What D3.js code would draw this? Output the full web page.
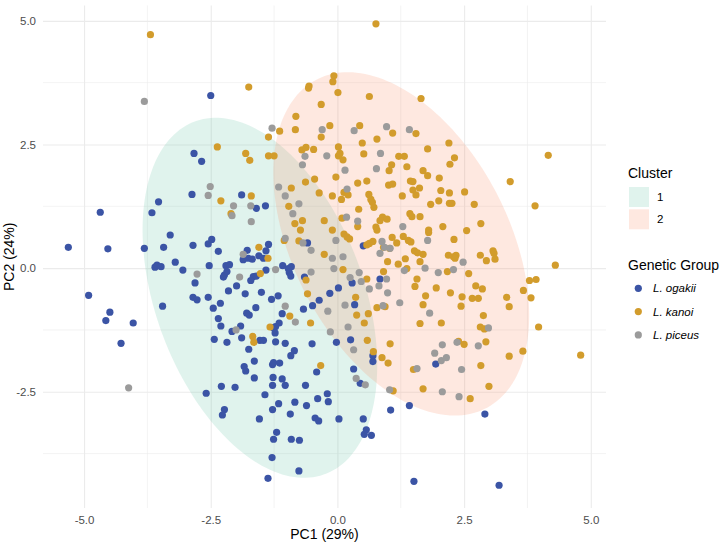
<!DOCTYPE html>
<html lang="en">
<head>
  <meta charset="UTF-8">
  <title>PCA clusters</title>
  <style>
    body { margin: 0; background: #fff; }
    text { font-family: "Liberation Sans", Arial, sans-serif; }
  </style>
  <script src="https://cdn.jsdelivr.net/npm/d3@7"></script>
</head>
<body>
<svg width="720" height="543"></svg>
<script>
// PC1 / PC2 scores per genetic group
var ogakii = [
  [-2.50,3.49],[-2.83,2.32],[-2.68,2.16],[-2.87,1.49],[-3.53,1.34],[-4.68,1.13],[-3.66,1.12],[-3.30,0.67],
  [-5.31,0.42],[-4.53,0.39],[-3.81,0.40],[-3.43,0.42],[-2.85,0.46],[-2.55,0.49],[-2.48,0.58],[-2.35,0.34],
  [-3.20,0.12],[-3.60,0.02],[-3.56,0.06],[-3.48,0.03],[-3.05,-0.04],[-2.53,0.05],[-2.20,0.05],[-2.13,0.07],
  [-2.23,-0.14],[-2.25,-0.18],[-2.18,-0.07],[-2.81,-0.30],[-2.15,-0.46],[-4.91,-0.55],[-2.85,-0.59],[-2.77,-0.64],
  [-2.55,-0.59],[-3.45,-0.77],[-2.31,-0.71],[-2.45,-0.81],[-4.49,-0.89],[-4.57,-1.06],[-4.03,-1.11],[-2.35,-1.02],
  [-2.30,-1.17],[-4.27,-1.52],[-2.43,-1.44],[-2.18,-1.50],[-2.59,-2.53],[-2.29,-2.39],[-2.23,-2.86],[-2.27,-2.97],
  [-1.89,1.48],[-1.60,1.21],[-1.42,1.26],[-0.59,0.51],[0.51,0.45],[0.29,-0.30],[0.84,-0.22],[0.34,-0.74],
  [0.26,-1.45],[-0.02,-1.50],[-1.78,0.36],[-1.86,0.17],[-1.76,0.20],[-1.68,0.18],[-1.55,0.25],[-1.41,0.35],
  [-1.36,0.48],[-1.46,0.20],[-1.66,-0.17],[-1.71,-0.25],[-1.60,-0.16],[-1.41,-0.04],[-1.08,0.05],[-0.97,-0.01],
  [-0.91,0.03],[-0.95,-0.09],[-0.92,-0.16],[-0.65,-0.18],[-1.99,-0.36],[-1.82,-0.52],[-1.50,-0.49],[-1.17,-0.56],
  [-1.30,-0.63],[-0.15,-0.51],[0.02,-0.40],[-0.36,-0.65],[-0.49,-0.76],[-0.67,-0.83],[-1.61,-0.80],[-1.79,-0.91],
  [-1.74,-0.95],[-1.09,-0.92],[-1.91,-1.17],[-1.15,-1.11],[-1.22,-1.18],[-1.27,-1.20],[-1.23,-1.31],[-2.08,-1.28],
  [-1.89,-1.41],[-1.53,-1.46],[-1.46,-1.46],[-1.22,-1.49],[-1.03,-1.52],[-0.50,-1.53],[-1.75,-1.64],[-0.85,-1.67],
  [-0.92,-1.77],[-1.64,-1.88],[-1.84,-1.99],[-1.81,-2.08],[-1.28,-1.95],[-1.26,-1.91],[-1.14,-1.92],[-0.41,-2.10],
  [0.32,-2.04],[0.45,-2.33],[0.70,-1.77],[0.70,-1.89],[1.42,-2.78],[1.05,-2.87],[-1.64,-2.22],[-1.27,-2.21],
  [-1.09,-2.24],[-1.03,-2.37],[-1.28,-2.37],[-2.02,-2.41],[-0.63,-2.37],[-1.43,-2.56],[-0.20,-2.54],[-0.39,-2.64],
  [-0.18,-2.70],[-0.84,-2.71],[-1.16,-2.74],[-0.61,-2.78],[-1.28,-2.86],[-0.93,-2.95],[-1.54,-3.05],[-0.44,-3.03],
  [-0.37,-3.09],[0.03,-3.05],[0.51,-3.05],[0.57,-3.27],[0.53,-3.36],[0.67,-3.38],[-1.20,-3.32],[-1.26,-3.46],
  [-0.91,-3.46],[-0.75,-3.48],[-1.29,-3.83],[-0.76,-4.10],[-1.37,-4.25],[1.51,-4.31],[1.94,-1.94],[2.91,-2.95],
  [3.19,-4.39]
];

var kanoi = [
  [-3.69,4.72],[-2.37,2.45],[0.76,4.94],[-0.07,3.89],[-0.09,3.77],[-0.56,3.68],[-0.57,3.64],[-1.75,3.66],
  [0.01,3.55],[0.63,3.47],[1.65,3.43],[-0.32,3.31],[-0.82,3.07],[-1.14,2.77],[-0.83,2.80],[-0.15,2.88],
  [0.44,2.88],[1.09,2.73],[1.55,2.72],[-1.36,2.65],[-0.32,2.65],[0.78,2.61],[0.49,2.53],[1.78,2.41],
  [-1.81,2.32],[-1.73,2.18],[-1.36,2.27],[-1.25,2.27],[-0.70,2.39],[-0.62,2.44],[-0.47,2.40],[0.02,2.45],
  [0.02,2.27],[0.05,2.32],[0.11,2.19],[0.52,2.31],[1.21,2.26],[1.32,2.26],[1.07,2.09],[1.37,2.05],
  [1.02,1.97],[1.69,1.97],[1.78,1.87],[2.20,2.53],[2.31,2.23],[2.22,2.10],[4.16,2.28],[2.01,1.82],
  [3.41,1.75],[2.04,1.57],[2.21,1.52],[2.51,1.54],[2.00,1.36],[1.84,1.29],[2.21,1.31],[2.26,1.31],
  [2.70,1.29],[3.90,1.26],[1.63,1.04],[2.83,0.90],[2.08,0.84],[1.80,0.77],[1.80,0.72],[2.55,0.76],
  [2.30,0.58],[3.07,0.35],[3.09,0.30],[1.69,0.28],[2.19,0.26],[2.29,0.23],[2.34,0.26],[2.32,0.20],
  [2.82,0.26],[2.94,0.15],[3.11,0.18],[1.63,0.13],[2.17,-0.07],[2.59,-0.11],[4.30,0.06],[3.79,-0.25],
  [3.92,-0.23],[2.73,-0.36],[2.86,-0.42],[1.95,-0.40],[2.23,-0.50],[3.67,-0.45],[1.74,-0.56],[2.46,-0.58],
  [2.66,-0.61],[2.78,-0.61],[3.34,-0.59],[3.82,-0.60],[1.69,-0.74],[2.44,-0.77],[3.39,-0.78],[2.88,-0.96],
  [1.63,-1.12],[2.05,-1.11],[2.82,-1.19],[2.90,-1.23],[3.97,-1.19],[2.39,-1.48],[2.50,-1.54],[2.93,-1.49],
  [3.39,-1.78],[3.66,-1.68],[4.80,-1.76],[2.83,-1.97],[1.69,-2.44],[2.99,-2.39],[2.62,-2.64],[0.71,-1.69],
  [0.88,-1.81],[1.00,-1.92],[-0.33,-1.97],[1.50,-2.05],[1.10,-2.48],[0.59,-1.46],[1.04,-1.53],[-1.65,-1.50],
  [-2.30,1.36],[-2.10,1.10],[-0.63,1.74],[-0.45,1.80],[-0.03,1.84],[0.40,1.72],[0.58,1.76],[1.01,1.68],
  [1.09,1.70],[1.44,1.76],[1.49,1.75],[1.62,1.62],[1.49,1.58],[1.55,1.48],[-0.91,1.62],[-0.36,1.52],
  [-0.10,1.46],[0.13,1.53],[0.21,1.48],[0.08,1.39],[0.62,1.49],[0.66,1.39],[0.69,1.33],[0.72,1.23],
  [1.28,1.46],[-1.70,1.46],[-0.96,1.25],[-0.69,0.96],[-0.84,0.90],[-0.26,0.96],[0.09,1.01],[0.42,1.19],
  [0.40,0.84],[0.89,1.03],[0.84,0.96],[0.98,0.99],[0.76,0.83],[0.78,0.77],[1.43,1.10],[1.47,1.04],
  [-0.73,0.77],[-0.10,0.77],[0.13,0.69],[0.19,0.63],[0.24,0.59],[-1.05,0.56],[-0.76,0.55],[-0.26,0.28],
  [0.58,0.47],[0.63,0.50],[0.70,0.54],[0.91,0.42],[1.03,0.40],[1.17,0.51],[1.08,0.62],[1.30,0.64],
  [1.40,0.56],[1.45,0.53],[1.52,0.35],[1.58,0.31],[0.99,0.13],[1.34,0.19],[1.20,0.08],[1.37,-0.01],
  [0.91,-0.07],[0.11,-0.03],[0.58,-0.22],[1.57,-0.22],[1.53,-0.37],[0.78,-0.80],[0.94,-0.78],[0.36,-0.59],
  [0.38,-0.95],[0.61,-0.92],[0.53,-1.11],[-1.55,0.42],[-1.37,0.20],[-1.52,-0.11],[-0.62,-0.24],[-0.59,-0.52],
  [-0.94,-0.97],[-0.53,-1.11],[-1.33,-1.19],[-1.67,-1.38]
];

var piceus = [
  [-3.81,3.37],[-1.29,2.83],[-0.30,2.80],[0.33,2.78],[0.97,2.86],[1.42,2.80],[-0.64,2.26],[-0.21,2.27],
  [0.85,2.32],[-0.69,2.09],[0.15,1.98],[0.77,2.01],[-2.51,1.65],[-2.55,1.47],[-2.77,-0.12],[-1.16,1.64],
  [-1.03,1.46],[0.19,1.60],[-2.05,1.26],[-1.71,1.26],[-0.76,1.30],[-0.88,1.10],[-2.08,1.06],[-1.70,0.94],
  [0.18,1.03],[0.40,0.95],[1.29,0.84],[-1.03,0.60],[-0.68,0.51],[-0.52,0.36],[-0.03,0.56],[0.88,0.54],
  [0.93,0.42],[1.04,0.40],[0.84,0.30],[1.32,-0.05],[-0.10,0.20],[0.11,0.23],[-0.07,-0.01],[0.43,-0.09],
  [0.25,-0.19],[0.47,-0.27],[0.97,-0.22],[0.82,-0.36],[0.63,-0.42],[0.99,-0.50],[1.23,-0.70],[0.90,-0.76],
  [0.15,-0.75],[-0.19,-0.87],[0.21,-1.19],[-0.14,-1.29],[-1.86,0.28],[-1.93,-0.18],[-1.22,-0.03],[-0.52,-0.08],
  [-1.03,-0.77],[-0.83,-1.09],[-2.00,-1.25],[1.78,0.56],[2.48,0.12],[1.73,0.00],[2.29,-0.03],[1.99,-0.09],
  [1.82,-0.91],[2.98,-1.21],[2.07,-1.55],[2.36,-1.50],[2.78,-1.57],[1.92,-1.72],[2.05,-1.87],[2.15,-1.81],
  [2.45,-2.05],[2.07,-2.50],[2.40,-2.60],[0.32,-1.65],[0.37,-2.23],[0.55,-2.36],[1.57,-2.03],[1.03,-2.46],
  [-4.12,-2.42]
];

// cluster ellipses: centre, semi-axes, rotation (degrees) in PC units
var clusterNames = ["1", "2"];
var clusterCentre = [[-1.53, -0.60], [1.26, 0.49]];
var clusterAxes = [[3.79, 2.06], [3.72, 2.14]];
var clusterAngle = [-70.6, -63.9];

var groupNames = ["L. ogakii", "L. kanoi", "L. piceus"];
var xTicks = [-5, -2.5, 0, 2.5, 5];
var yTicks = [-2.5, 0, 2.5, 5];
var xMinor = [-3.75, -1.25, 1.25, 3.75];
var yMinor = [-3.75, -1.25, 1.25, 3.75];

var clusterFill = ["#66C2A5", "#FC8D62"];
var groupColor = ["#3B54A5", "#D29C2C", "#9B9B9B"];

var svg = d3.select("svg");
var pLeft = 43, pRight = 606, pTop = 5.5, pBottom = 508;

var x = d3.scaleLinear().domain([-5.81, 5.30]).range([pLeft, pRight]);
var y = d3.scaleLinear().domain([-4.85, 5.31]).range([pBottom, pTop]);

// grid
var grid = svg.append("g");
grid.selectAll(".vminor").data(xMinor).enter().append("line")
    .attr("x1", d => x(d)).attr("x2", d => x(d))
    .attr("y1", pTop).attr("y2", pBottom)
    .attr("stroke", "#ebebeb").attr("stroke-width", 0.6);
grid.selectAll(".hminor").data(yMinor).enter().append("line")
    .attr("y1", d => y(d)).attr("y2", d => y(d))
    .attr("x1", pLeft).attr("x2", pRight)
    .attr("stroke", "#ebebeb").attr("stroke-width", 0.6);

var xAxis = svg.append("g")
    .attr("transform", "translate(0," + pBottom + ")")
    .call(d3.axisBottom(x).tickValues(xTicks).tickSize(-(pBottom - pTop)).tickPadding(8)
        .tickFormat(d => d.toFixed(1)));
var yAxis = svg.append("g")
    .attr("transform", "translate(" + pLeft + ",0)")
    .call(d3.axisLeft(y).tickValues(yTicks).tickSize(-(pRight - pLeft)).tickPadding(7)
        .tickFormat(d => d.toFixed(1)));

[xAxis, yAxis].forEach(function(a) {
  a.select(".domain").remove();
  a.selectAll(".tick line").attr("stroke", "#ebebeb").attr("stroke-width", 1.1);
  a.selectAll(".tick text").attr("fill", "#4d4d4d").style("font-size", "11.5px")
      .style("font-family", "'Liberation Sans', Arial, sans-serif");
});

// ellipses
var ellipseLine = d3.line().x(d => x(d[0])).y(d => y(d[1])).curve(d3.curveLinearClosed);
var steps = d3.range(0, 360, 2);
clusterNames.forEach(function(name, i) {
  var c = clusterCentre[i], ax = clusterAxes[i], phi = clusterAngle[i] * Math.PI / 180;
  var pts = steps.map(function(deg) {
    var t = deg * Math.PI / 180;
    var dx = ax[0] * Math.cos(t), dy = ax[1] * Math.sin(t);
    return [c[0] + dx * Math.cos(phi) - dy * Math.sin(phi),
            c[1] + dx * Math.sin(phi) + dy * Math.cos(phi)];
  });
  svg.append("path")
      .attr("d", ellipseLine(pts))
      .attr("fill", clusterFill[i])
      .attr("fill-opacity", 0.2);
});

// points
[ogakii, kanoi, piceus].forEach(function(group, i) {
  svg.append("g").selectAll("circle")
    .data(group)
    .enter().append("circle")
      .attr("cx", d => x(d[0]))
      .attr("cy", d => y(d[1]))
      .attr("r", 3.6)
      .attr("fill", groupColor[i]);
});

// axis titles
svg.append("text")
    .attr("x", (pLeft + pRight) / 2).attr("y", 539)
    .attr("text-anchor", "middle").style("font-size", "14px")
    .text("PC1 (29%)");
svg.append("text")
    .attr("transform", "translate(13.5," + ((pTop + pBottom) / 2) + ") rotate(-90)")
    .attr("text-anchor", "middle").style("font-size", "14px")
    .text("PC2 (24%)");

// legends
var lg = svg.append("g");
lg.append("text").attr("x", 628).attr("y", 178).style("font-size", "14px").text("Cluster");
clusterNames.forEach(function(name, i) {
  lg.append("rect")
      .attr("x", 629).attr("y", 187 + i * 22.3)
      .attr("width", 20).attr("height", 20)
      .attr("fill", clusterFill[i]).attr("fill-opacity", 0.2);
  lg.append("text")
      .attr("x", 657).attr("y", 201 + i * 22.3)
      .style("font-size", "11.5px").text(name);
});

lg.append("text").attr("x", 628).attr("y", 270).style("font-size", "14px").text("Genetic Group");
groupNames.forEach(function(name, i) {
  lg.append("circle")
      .attr("cx", 638.3).attr("cy", 288.3 + i * 23.3)
      .attr("r", 3.6).attr("fill", groupColor[i]);
  lg.append("text")
      .attr("x", 653).attr("y", 292.3 + i * 23.3)
      .style("font-size", "11.5px").style("font-style", "italic").text(name);
});
</script>
</body>
</html>
